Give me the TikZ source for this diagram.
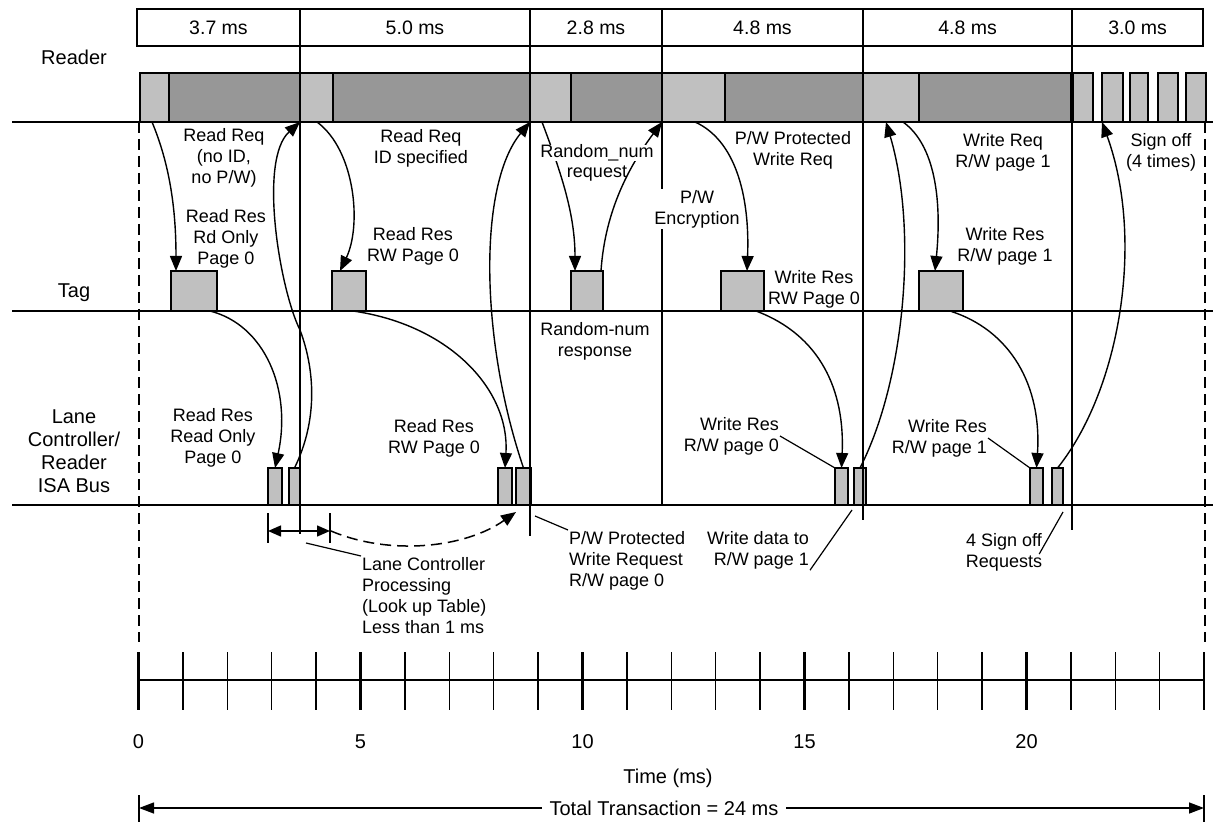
\documentclass[tikz,border=0pt]{standalone}
\usepackage{fontspec}
\setmainfont{Liberation Sans}
\usetikzlibrary{arrows.meta,calc}
\definecolor{lg}{HTML}{C0C0C0}
\definecolor{dg}{HTML}{979797}
\newcommand{\bx}[6]{\node[box,fill=#6,minimum width={#4-#2},minimum height={#5-#3}] (#1) at (#2,#3) {};}
\begin{document}
\begin{tikzpicture}[x=1pt,y=-1pt,
  lane/.style={line width=1.5pt},
  bnd/.style={line width=1.7pt},
  box/.style={draw,line width=1.4pt,inner sep=0pt,outer sep=0pt,anchor=north west},
  conn/.style={line width=1.4pt,-{Triangle[length=15pt,width=12pt]}},
  lbl/.style={font=\fontsize{18}{21}\selectfont,align=center,inner sep=1pt},
  cell/.style={box,minimum height=37,font=\fontsize{19.5}{22}\selectfont},
  side/.style={font=\fontsize{20}{23}\selectfont,align=center,inner sep=1pt},
  axl/.style={font=\fontsize{20}{23}\selectfont,inner sep=1pt},
  dsh/.style={line width=1.5pt,dash pattern=on 11pt off 6pt},
  tickl/.style={line width=1.4pt},
  major/.style={line width=2.4pt},
  lead/.style={line width=1.2pt},
]
\useasboundingbox (0,0) rectangle (1213,826);
\fill[white] (0,0) rectangle (1213,826);

% ---- top duration cells
\node[cell,minimum width=163] (d1) at (137,9) {3.7 ms};
\node[cell,minimum width=230] (d2) at (300,9) {5.0 ms};
\node[cell,minimum width=132] (d3) at (530,9) {2.8 ms};
\node[cell,minimum width=201] (d4) at (662,9) {4.8 ms};
\node[cell,minimum width=209] (d5) at (863,9) {4.8 ms};
\node[cell,minimum width=131] (d6) at (1072,9) {3.0 ms};

% ---- lane separators
\coordinate (la) at (12,122); \coordinate (lb) at (1213,122);
\coordinate (ta) at (12,311); \coordinate (tb) at (1213,311);
\coordinate (ca) at (12,505); \coordinate (cb) at (1213,505);
\draw[lane] (la) -- (lb);
\draw[lane] (ta) -- (tb);
\draw[lane] (ca) -- (cb);

% ---- dashed limits
\coordinate (dl1) at (139,122); \coordinate (dl2) at (139,642);
\coordinate (dr1) at (1205,122); \coordinate (dr2) at (1205,642);
\draw[dsh] (dl1) -- (dl2);
\draw[dsh] (dr1) -- (dr2);

% ---- reader bar
\bx{r1a}{140}{73}{169}{122}{lg}
\bx{r1b}{169}{73}{300}{122}{dg}
\bx{r2a}{300}{73}{333}{122}{lg}
\bx{r2b}{333}{73}{530}{122}{dg}
\bx{r3a}{530}{73}{571}{122}{lg}
\bx{r3b}{571}{73}{662}{122}{dg}
\bx{r4a}{662}{73}{725}{122}{lg}
\bx{r4b}{725}{73}{863}{122}{dg}
\bx{r5a}{863}{73}{919}{122}{lg}
\bx{r5b}{919}{73}{1071}{122}{dg}
\bx{s1}{1073}{73}{1093}{122}{lg}
\bx{s2}{1102}{73}{1123}{122}{lg}
\bx{s3}{1130}{73}{1148}{122}{lg}
\bx{s4}{1158}{73}{1178}{122}{lg}
\bx{s5}{1186}{73}{1206}{122}{lg}

% ---- tag boxes
\bx{t1}{171}{271}{217}{311}{lg}
\bx{t2}{332}{271}{366}{311}{lg}
\bx{t3}{571}{271}{603}{311}{lg}
\bx{t4}{721}{271}{764}{311}{lg}
\bx{t5}{919}{271}{963}{311}{lg}

% ---- lane controller boxes
\bx{l1a}{268}{468}{282}{505}{lg}
\bx{l1b}{289}{468}{300}{505}{lg}
\bx{l2a}{498}{468}{512}{505}{lg}
\bx{l2b}{516}{468}{531}{505}{lg}
\bx{l3a}{835}{468}{848}{505}{lg}
\bx{l3b}{854}{468}{866}{505}{lg}
\bx{l4a}{1030}{468}{1043}{505}{lg}
\bx{l4b}{1052}{468}{1063}{505}{lg}

% ---- period boundaries
\draw[bnd] (d1.north east) -- (300,534);
\draw[bnd] (d2.north east) -- (530,536);
\draw[bnd] (d3.north east) -- (662,505);
\draw[bnd] (d4.north east) -- (863,520);
\draw[bnd] (d5.north east) -- (1072,530);

% ---- connectors
\draw[conn] ($(r1a.south west)+(12,0)$) .. controls (170,165) and (176,210) .. ($(t1.north west)+(5,0)$);
\draw[conn] ($(t1.south west)+(39,0)$) .. controls (265,325) and (292,390) .. (l1a.north);
\draw[conn] (l1b.north) .. controls (318,420) and (315,370) .. (300,330) .. controls (280,290) and (258,160) .. (r1b.south east);
\draw[conn] ($(r2a.south west)+(17,0)$) .. controls (355,150) and (362,225) .. ($(t2.north west)+(8,0)$);
\draw[conn] ($(t2.south west)+(21,0)$) .. controls (450,325) and (510,390) .. (l2a.north);
\draw[conn] (l2b.north) .. controls (480,340) and (478,185) .. (r2b.south east);
\draw[conn] ($(r3a.south west)+(12,0)$) .. controls (562,175) and (575,215) .. ($(t3.north west)+(4,0)$);
\draw[conn] ($(t3.north east)+(-2,0)$) .. controls (605,210) and (630,165) .. (r3b.south east);
\draw[conn] ($(r4a.south west)+(33,0)$) .. controls (735,140) and (750,195) .. ($(t4.north west)+(26,0)$);
\draw[conn] ($(t4.south west)+(35,0)$) .. controls (820,335) and (845,390) .. (l3a.north);
\draw[conn] (l3b.north) .. controls (905,380) and (918,230) .. ($(r5a.south west)+(23,0)$);
\draw[conn] ($(r5a.south west)+(40,0)$) .. controls (935,145) and (942,200) .. ($(t5.north west)+(16,0)$);
\draw[conn] ($(t5.south west)+(31,0)$) .. controls (1010,330) and (1042,385) .. (l4a.north);
\draw[conn] (l4b.north) .. controls (1120,390) and (1145,240) .. (s2.south west);

% ---- labels
\node[side] (nreader) at (74,57) {Reader};
\node[side] (ntag) at (74,293) {Tag};
\node[side] (nlane) at (74,451) {Lane\\Controller/\\Reader\\ISA Bus};

\node[lbl] (L1) at (224,158) {Read Req\\(no ID,\\no P/W)};
\node[lbl] (L2) at (226,239) {Read Res\\Rd Only\\Page 0};
\node[lbl] (L3) at (421,148) {Read Req\\ID specified};
\node[lbl] (L4) at (413,246) {Read Res\\RW Page 0};
\node[lbl,fill=white,inner sep=0pt] (L5a) at (597,153) {Random\_num};
\node[lbl] (L5b) at (597,174) {request};
\node[lbl,fill=white] (L6) at (697,209) {P/W\\Encryption};
\node[lbl] (L7) at (793,150) {P/W Protected\\Write Req};
\node[lbl] (L8) at (814,289) {Write Res\\RW Page 0};
\node[lbl] (L9) at (1003,152) {Write Req\\R/W page 1};
\node[lbl] (L10) at (1005,246) {Write Res\\R/W page 1};
\node[lbl] (L11) at (1161,152) {Sign off\\(4 times)};
\node[lbl] (L12) at (595,341) {Random-num\\response};
\node[lbl] (L13) at (213,438) {Read Res\\Read Only\\Page 0};
\node[lbl] (L14) at (434,438) {Read Res\\RW Page 0};
\node[lbl,align=right,anchor=east] (L15) at (780,436) {Write Res\\R/W page 0};
\node[lbl,align=right,anchor=east] (L16) at (988,438) {Write Res\\R/W page 1};
\draw[lead] (L15.east) -- (l3a.north west);
\draw[lead] (L16.east) -- (l4a.north west);

% ---- below the lanes
\coordinate (pa) at (268,513); \coordinate (pa2) at (268,543);
\coordinate (pb) at (330,513); \coordinate (pb2) at (330,543);
\draw[tickl] (pa) -- (pa2);
\draw[tickl] (pb) -- (pb2);
\coordinate (pl) at (268,531); \coordinate (pr) at (330,531);
\draw[line width=1.4pt,{Triangle[length=13pt,width=11pt]}-{Triangle[length=13pt,width=11pt]}] (pl) -- (pr);
\coordinate (dtip) at (516,512);
\draw[dsh,-{Triangle[length=15pt,width=12pt]}] ([xshift=1pt]pr) .. controls (390,556) and (465,548) .. (dtip);

\node[lbl,align=left,anchor=north west] (L17) at (361,556) {Lane Controller\\Processing\\(Look up Table)\\Less than 1 ms};
\coordinate (ld1) at (306,543);
\draw[lead] (ld1) -- (L17.north west);
\node[lbl,align=left,anchor=north west] (L18) at (568,530) {P/W Protected\\Write Request\\R/W page 0};
\coordinate (ld2) at (535,516);
\draw[lead] (ld2) -- (L18.north west);
\node[lbl,align=right,anchor=north east] (L19) at (810,530) {Write data to\\R/W page 1};
\coordinate (ld3) at (852,510);
\draw[lead] (L19.south east) -- (ld3);
\node[lbl] (L20) at (1004,552) {4 Sign off\\Requests};
\coordinate (ld4) at (1063,512);
\draw[lead] ($(L20.east)+(-4,2)$) -- (ld4);

% ---- time axis
\coordinate (ax0) at (138.5,680); \coordinate (ax24) at (1204.1,680);
\draw[lane] (ax0) -- (ax24);
\foreach \i in {1,2,3,4,6,7,8,9,11,12,13,14,16,17,18,19,21,22,23}
  \draw[tickl] ({138.5+44.4*\i},652) -- ({138.5+44.4*\i},710);
\foreach \i in {0,5,10,15,20,24}
  \draw[major] ({138.5+44.4*\i},652) -- ({138.5+44.4*\i},710);
\foreach \i in {0,5,10,15,20}
  \node[axl] (n\i) at ({138.5+44.4*\i},742) {\i};
\node[axl] (ntime) at (668,778) {Time (ms)};

% ---- total
\coordinate (tt0) at (139,808); \coordinate (tt1) at (1204,808);
\draw[line width=1.4pt,{Triangle[length=15pt,width=11pt]}-{Triangle[length=15pt,width=11pt]}] (tt0) -- (tt1);
\draw[tickl] (139,795) -- (139,822);
\draw[tickl] (1204,795) -- (1204,822);
\node[axl,fill=white,inner xsep=8pt] (ntot) at (664,808) {Total Transaction = 24 ms};
\end{tikzpicture}
\end{document}
